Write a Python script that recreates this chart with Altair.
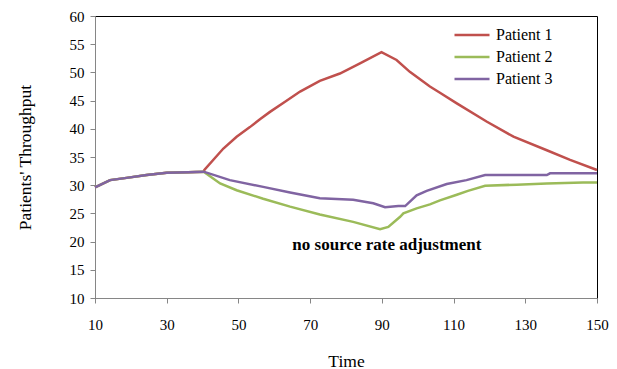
import altair as alt
import pandas as pd

# shared start (all patients identical until t~40)
common_t = [10, 14.2, 18.8, 24.4, 30, 36, 40.3]
common_v = [29.6, 30.9, 31.3, 31.8, 32.2, 32.3, 32.4]

p1_t = [40.5, 45.8, 49.5, 53.2, 56, 58.8, 63, 67.2, 72.7, 78.3, 83.9, 89.9,
        94.1, 97.8, 103.4, 106.2, 110.9, 119.2, 126.7, 136, 142.5, 150]
p1_v = [32.7, 36.5, 38.6, 40.3, 41.7, 43.0, 44.8, 46.6, 48.5, 49.8, 51.6, 53.6,
        52.2, 50.1, 47.5, 46.4, 44.5, 41.3, 38.6, 36.2, 34.5, 32.7]

p2_t = [44.9, 49.5, 56.9, 64.4, 72.7, 82, 89.5, 91.8, 95.1, 96, 99.7, 103.4,
        106.2, 110.9, 114, 118.8, 127.6, 136, 146.1, 150]
p2_v = [30.3, 29.1, 27.6, 26.2, 24.8, 23.5, 22.2, 22.6, 24.4, 25.0, 25.9, 26.6,
        27.3, 28.3, 29.0, 29.9, 30.1, 30.3, 30.5, 30.5]

p3_t = [47.6, 56.9, 64.4, 72.7, 82, 87.6, 90.9, 94.6, 96.5, 99.7, 102.5, 108.1,
        113.6, 118.8, 136, 136.9, 150]
p3_v = [30.9, 29.7, 28.7, 27.7, 27.4, 26.8, 26.1, 26.3, 26.3, 28.2, 29.0, 30.2,
        30.9, 31.8, 31.8, 32.1, 32.1]

series_names = ["Patient 1", "Patient 2", "Patient 3"]
series_colors = ["#C0504D", "#9BBB59", "#8064A2"]

x_ticks = [10, 30, 50, 70, 90, 110, 130, 150]
y_ticks = [10, 15, 20, 25, 30, 35, 40, 45, 50, 55, 60]

note_text = ["no source rate adjustment"]
note_t = [91.4]
note_v = [19.4]

rows = []
for name, ts, vs in zip(series_names, [p1_t, p2_t, p3_t], [p1_v, p2_v, p3_v]):
    for t, v in zip(common_t + ts, common_v + vs):
        rows.append({"Time": t, "Value": v, "Series": name, "Text": None})
for t, v, s in zip(note_t, note_v, note_text):
    rows.append({"Time": t, "Value": v, "Series": None, "Text": s})
df = pd.DataFrame(rows)

FONT = "Liberation Serif"
GRAY = "#868686"

axis_common = dict(grid=False, ticks=True, tickSize=5, tickColor=GRAY, tickWidth=1,
                   domainColor=GRAY, labelFlush=False,
                   labelFont=FONT, labelFontSize=15, labelColor="black", labelOverlap=False,
                   titleFont=FONT, titleFontSize=17.5, titleFontWeight="normal",
                   titleColor="black")

X = alt.X("Time:Q", scale=alt.Scale(domain=[10, 150], nice=False, zero=False),
          axis=alt.Axis(values=x_ticks, title="Time", labelPadding=14, titlePadding=20,
                        **axis_common))
Y = alt.Y("Value:Q", scale=alt.Scale(domain=[10, 60], nice=False, zero=False),
          axis=alt.Axis(values=y_ticks, title="Patients' Throughput", labelPadding=6,
                        titlePadding=35, **axis_common))

base = alt.Chart(df).encode(x=X, y=Y)

lines = base.transform_filter("datum.Series != null").mark_line(
    strokeWidth=2.5, interpolate="linear").encode(
    color=alt.Color("Series:N",
                    scale=alt.Scale(domain=series_names, range=series_colors),
                    legend=alt.Legend(title=None, orient="none", legendX=358, legendY=9,
                                      symbolType="stroke", symbolSize=1225,
                                      symbolStrokeWidth=2.5, labelFont=FONT,
                                      labelFontSize=16, labelColor="black",
                                      labelOffset=5, clipHeight=20, rowPadding=2)),
)

note = base.transform_filter("datum.Text != null").mark_text(
    font=FONT, fontSize=17, fontWeight="bold", color="black",
    align="center", baseline="middle").encode(text="Text:N")

chart = alt.layer(lines, note).properties(
    width=502, height=282,
    autosize=alt.AutoSizeParams(type="none"),
    padding={"left": 95, "top": 16, "right": 20, "bottom": 71},
).configure_view(stroke="black", strokeWidth=1)

chart.save("out.html", embed_options={"renderer": "svg", "actions": False})
